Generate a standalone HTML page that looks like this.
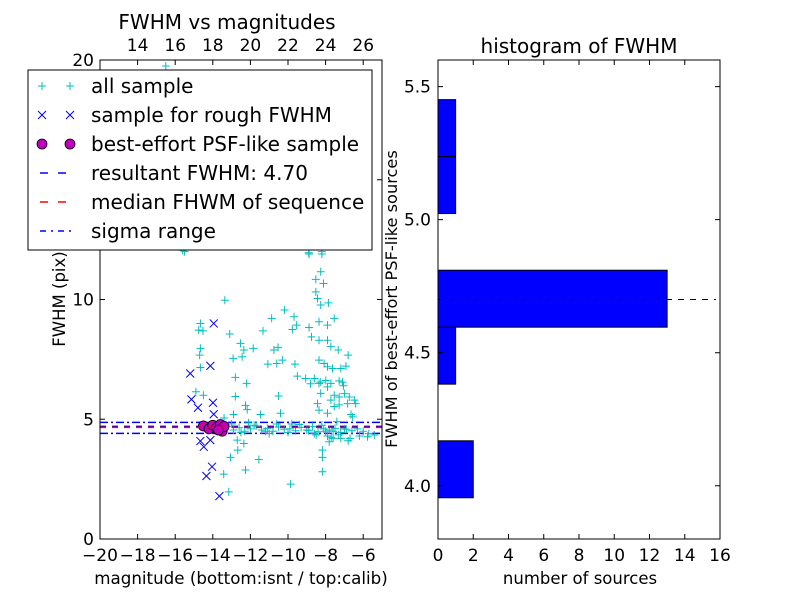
<!DOCTYPE html>
<html><head><meta charset="utf-8"><style>
html,body{margin:0;padding:0;background:#fff;}
svg{display:block;font-family:"DejaVu Sans","Liberation Sans",sans-serif;}
</style></head><body>
<svg id="c" width="800" height="600" xmlns="http://www.w3.org/2000/svg">
<rect width="800" height="600" fill="#fff"/>
<g id="L"></g><g id="R"></g>
</svg>
<script>
const allX=[-15.5,-8.88,-8.2,-8.26,-8.52,-8.11,-8.52,-8.43,-8.26,-7.85,-13.36,-10.18,-10.87,-9.68,-9.77,-9.54,-8.88,-8.35,-7.9,-7.54,-14.66,-14.75,-14.52,-11.33,-13.1,-8.75,-8.35,-7.9,-7.72,-7.33,-6.8,-14.66,-14.7,-12.53,-12.35,-11.85,-12.44,-12.92,-10.75,-10.53,-10.3,-10.6,-14.66,-11.07,-9.63,-8.35,-8.08,-7.9,-7.63,-7.19,-6.92,-9.5,-9.06,-8.6,-8.26,-7.99,-7.72,-7.28,-12.8,-12.2,-8.8,-8.35,-7.9,-7.1,-7.05,-14.9,-14.5,-12.8,-10.5,-8.26,-7.54,-7.28,-7.0,-6.74,-6.47,-7.72,-8.43,-7.54,-7.28,-6.83,-6.4,-12.26,-12.17,-11.46,-10.4,-8.35,-7.9,-6.65,-6.56,-12.9,-13.4,-12.7,-12.35,-12.67,-13.06,-11.55,-13.42,-12.26,-13.15,-9.86,-8.17,-8.17,-8.17,-7.81,-7.19,-5.77,-5.41,-16.5,-8.9,-8.2,-15.6,
-13.2,-12.9,-12.6,-12.3,-12.0,-11.7,-11.4,-11.1,-10.8,-10.5,-10.2,-9.9,-9.6,-9.3,-9.0,-8.7,-8.4,-8.1,-7.8,-7.5,-7.2,-6.9,-6.6,-6.3,-6.0,-5.7,-13.0,-12.5,-11.8,-11.2,-10.6,-10.0,-9.4,-8.9,-8.6,-8.2,-7.9,-7.6,-7.3,-7.0,-6.7,-12.1,-11.0,-9.8,-8.5,-7.7,-7.4,-6.8,-6.2,-8.0,-7.6];
const allY=[12.0,11.9,11.9,11.16,10.84,10.67,10.32,10.04,9.77,9.86,9.97,9.56,9.21,9.28,8.75,8.93,8.83,9.07,8.93,9.21,9.0,8.72,8.69,8.69,8.56,8.44,8.3,8.3,8.03,7.89,7.68,7.96,7.68,8.17,7.89,7.96,7.61,7.54,7.89,8.0,7.47,7.33,7.16,7.3,7.3,7.47,7.33,7.19,7.12,7.12,7.22,6.8,6.7,6.7,6.55,6.62,6.5,6.6,6.75,6.5,6.48,6.5,6.35,6.55,6.4,6.15,6.0,5.95,5.97,6.08,6.0,5.93,6.07,5.93,5.8,5.8,5.65,5.53,5.6,5.65,5.65,5.58,5.4,5.2,5.25,5.38,5.25,5.2,5.1,5.2,5.05,4.13,3.99,3.71,3.41,3.32,2.71,2.88,1.97,2.29,3.71,3.41,2.81,4.06,4.2,4.27,4.34,19.75,11.95,12.0,12.05,
4.7,4.55,4.65,4.5,4.6,4.72,4.55,4.62,4.5,4.68,4.58,4.6,4.52,4.66,4.55,4.7,4.48,4.6,4.55,4.62,4.45,4.58,4.52,4.6,4.5,4.4,4.8,4.45,4.75,4.5,4.8,4.45,4.78,4.52,4.4,4.75,4.3,4.5,4.35,4.6,4.2,4.85,4.4,4.8,4.35,4.25,4.9,4.1,4.3,4.5,4.2];
const roughX=[-13.95,-14.13,-15.2,-15.14,-14.79,-13.99,-13.95,-14.66,-14.48,-14.13,-14.04,-14.34,-13.65,-14.2,-13.8];
const roughY=[9.0,7.23,6.91,5.83,5.48,5.69,5.21,4.09,3.85,4.13,3.02,2.63,1.79,4.7,4.6];
const bestX=[-14.5,-14.2,-14.0,-13.8,-13.6,-13.5,-13.4,-13.7];
const bestY=[4.72,4.6,4.75,4.65,4.78,4.5,4.7,4.55];
const resultFWHM=4.70, medianFWHM=4.66, sigLo=4.41, sigHi=4.87;
const xTicks=[-20,-18,-16,-14,-12,-10,-8,-6];
const topTicks=[14,16,18,20,22,24,26];
const yTicks=[0,5,10,15,20];
const binEdges=[3.955,4.169,4.382,4.596,4.810,5.023,5.237,5.451];
const binCounts=[2,0,1,13,0,1,1];
const hxTicks=[0,2,4,6,8,10,12,14,16];
const hyTicks=[4.0,4.5,5.0,5.5];

const NS="http://www.w3.org/2000/svg";
function mk(p,t,a,txt){const e=document.createElementNS(NS,t);for(const k in a)e.setAttribute(k,a[k]);if(txt!==undefined)e.textContent=txt;p.appendChild(e);return e;}
const L=document.getElementById('L'),R=document.getElementById('R');
const lx0=100,lx1=382,ly0=60,ly1=539;
const sx=v=>lx0+(v+20)/15*(lx1-lx0);
const sy=v=>ly1-v/20*(ly1-ly0);
const stx=v=>sx(v-32);
let e;
e=mk(L,'line',{x1:lx0,x2:lx1,y1:sy(sigLo),y2:sy(sigLo),stroke:'#00f','stroke-width':1.5,'stroke-dasharray':'8,3,2,3'});

e=mk(L,'line',{x1:lx0,x2:lx1,y1:sy(sigHi),y2:sy(sigHi),stroke:'#00f','stroke-width':1.5,'stroke-dasharray':'8,3,2,3'});

e=mk(L,'line',{x1:lx0,x2:lx1,y1:sy(resultFWHM),y2:sy(resultFWHM),stroke:'#00f','stroke-width':1.5,'stroke-dasharray':'6,6'});

const gA=mk(L,'g',{stroke:'#00bfbf','stroke-width':1});

allX.forEach((x,i)=>{const px=sx(x),py=sy(allY[i]);if(py<ly0||px>lx1)return;
 e=mk(gA,'path',{d:`M${px-4},${py}h8M${px},${py-4}v8`});
 });
const gB=mk(L,'g',{stroke:'#00f','stroke-width':1});

roughX.forEach((x,i)=>{const px=sx(x),py=sy(roughY[i]);
 e=mk(gB,'path',{d:`M${px-4},${py-4}l8,8M${px-4},${py+4}l8,-8`});
 });
const gC=mk(L,'g',{fill:'#bf00bf',stroke:'#000','stroke-width':0.8});

bestX.forEach((x,i)=>{e=mk(gC,'circle',{cx:sx(x),cy:sy(bestY[i]),r:5});
 });
e=mk(L,'line',{x1:lx0,x2:lx1,y1:sy(medianFWHM),y2:sy(medianFWHM),stroke:'#f00','stroke-width':1.5,'stroke-dasharray':'6,6'});

e=mk(L,'rect',{x:lx0,y:ly0,width:lx1-lx0,height:ly1-ly0,fill:'none',stroke:'#000','stroke-width':1});

xTicks.forEach(t=>{const px=sx(t);
 mk(L,'path',{d:`M${px},${ly1}v-5`,stroke:'#000'});
 e=mk(L,'text',{x:px,y:ly1+22,'text-anchor':'middle','font-size':17},(t<0?'\u2212':'')+Math.abs(t));
 });
topTicks.forEach(t=>{const px=stx(t);
 mk(L,'path',{d:`M${px},${ly0}v5`,stroke:'#000'});
 e=mk(L,'text',{x:px,y:ly0-9,'text-anchor':'middle','font-size':17},t);
 });
yTicks.forEach(t=>{const py=sy(t);
 mk(L,'path',{d:`M${lx0},${py}h5M${lx1},${py}h-5`,stroke:'#000'});
 e=mk(L,'text',{x:lx0-6,y:py+6,'text-anchor':'end','font-size':17},t);
 });
e=mk(L,'text',{x:241,y:584,'text-anchor':'middle','font-size':16.7},'magnitude (bottom:isnt / top:calib)');

e=mk(L,'text',{x:227,y:29,'text-anchor':'middle','font-size':20},'FWHM vs magnitudes');

e=mk(L,'text',{x:0,y:0,'text-anchor':'middle','font-size':16.5,transform:'translate(65,299) rotate(-90)'},'FWHM (pix)');


const rx0=438,rx1=720,ry0=60,ry1=539;
const hx=v=>rx0+v/16*(rx1-rx0);
const hy=v=>ry1-(v-3.8)/1.8*(ry1-ry0);
binCounts.forEach((c,i)=>{if(!c)return;
 e=mk(R,'rect',{x:hx(0),y:hy(binEdges[i+1]),width:hx(c)-hx(0),height:hy(binEdges[i])-hy(binEdges[i+1]),fill:'#00f',stroke:'#000','stroke-width':1});
 });
e=mk(R,'line',{x1:rx0,x2:rx1-4,y1:hy(resultFWHM),y2:hy(resultFWHM),stroke:'#000','stroke-width':1,'stroke-dasharray':'6,6'});

e=mk(R,'rect',{x:rx0,y:ry0,width:rx1-rx0,height:ry1-ry0,fill:'none',stroke:'#000','stroke-width':1});

hxTicks.forEach(t=>{const px=hx(t);
 mk(R,'path',{d:`M${px},${ry1}v-5M${px},${ry0}v5`,stroke:'#000'});
 e=mk(R,'text',{x:px,y:ry1+22,'text-anchor':'middle','font-size':17},t);
 });
hyTicks.forEach(t=>{const py=hy(t);
 mk(R,'path',{d:`M${rx0},${py}h5M${rx1},${py}h-5`,stroke:'#000'});
 e=mk(R,'text',{x:rx0-7,y:py+6,'text-anchor':'end','font-size':17},t.toFixed(1));
 });
e=mk(R,'text',{x:580,y:584,'text-anchor':'middle','font-size':16.5},'number of sources');

e=mk(R,'text',{x:579,y:53,'text-anchor':'middle','font-size':20},'histogram of FWHM');

e=mk(R,'text',{x:0,y:0,'text-anchor':'middle','font-size':16.2,transform:'translate(397,299) rotate(-90)'},'FWHM of best-effort PSF-like sources');


const lg=mk(L,'g',{});

mk(lg,'rect',{x:28,y:70,width:344,height:180,fill:'#fff',stroke:'#000','stroke-width':1});
const labels=['all sample','sample for rough FWHM','best-effort PSF-like sample','resultant FWHM: 4.70','median FHWM of sequence','sigma range'];
labels.forEach((lb,i)=>{const cy=86+i*29;
 e=mk(lg,'text',{x:91,y:cy+7,'font-size':20},lb);
 
 if(i==0)[42,70].forEach(x=>mk(lg,'path',{d:`M${x-4},${cy}h8M${x},${cy-4}v8`,stroke:'#00bfbf'}));
 if(i==1)[42,70].forEach(x=>mk(lg,'path',{d:`M${x-4},${cy-4}l8,8M${x-4},${cy+4}l8,-8`,stroke:'#00f'}));
 if(i==2)[42,70].forEach(x=>mk(lg,'circle',{cx:x,cy:cy,r:5,fill:'#bf00bf',stroke:'#000','stroke-width':0.8}));
 if(i==3)mk(lg,'line',{x1:40,x2:74,y1:cy,y2:cy,stroke:'#00f','stroke-width':1.5,'stroke-dasharray':'8,10'});
 if(i==4)mk(lg,'line',{x1:40,x2:74,y1:cy,y2:cy,stroke:'#f00','stroke-width':1.5,'stroke-dasharray':'8,10'});
 if(i==5)mk(lg,'line',{x1:40,x2:74,y1:cy,y2:cy,stroke:'#00f','stroke-width':1.5,'stroke-dasharray':'6,5,2,5'});
});
</script>
</body></html>
